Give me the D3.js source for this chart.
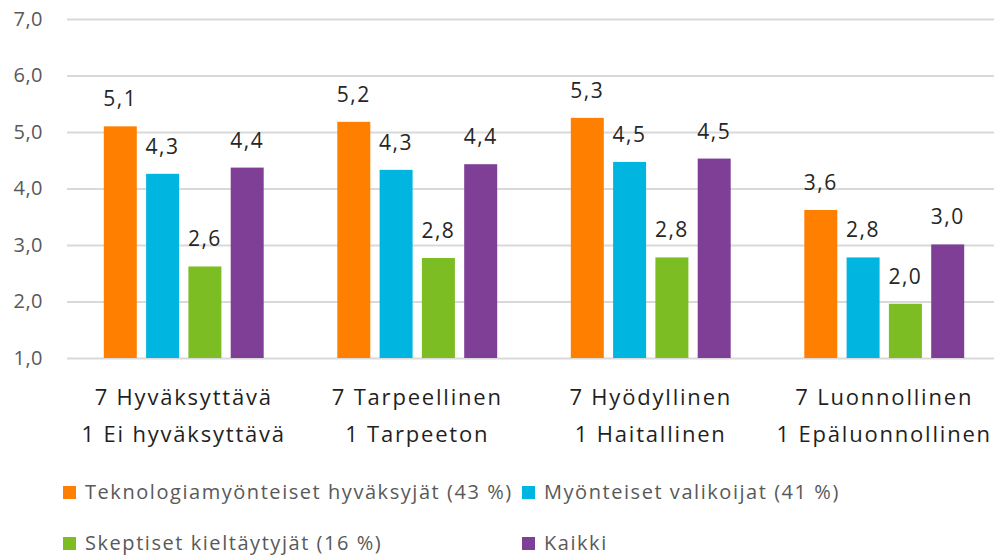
<!DOCTYPE html>
<html>
<head>
<meta charset="utf-8">
<script src="https://cdn.jsdelivr.net/npm/d3@7"></script>
<style>
  body { margin: 0; background: #fff; }
  svg { display: block; font-family: "Open Sans", sans-serif; }
</style>
</head>
<body>
<script>
// chart data
const categories = ["7 Hyväksyttävä\n1 Ei hyväksyttävä", "7 Tarpeellinen\n1 Tarpeeton", "7 Hyödyllinen\n1 Haitallinen", "7 Luonnollinen\n1 Epäluonnollinen"];
const seriesNames = ["Teknologiamyönteiset hyväksyjät (43 %)", "Myönteiset valikoijat (41 %)", "Skeptiset kieltäytyjät (16 %)", "Kaikki"];
const seriesColors = ["#ff8000", "#00b5e0", "#7bbd22", "#7f3f96"];
const techPositive = [5.10, 5.18, 5.25, 3.62];
const positiveSelectors = [4.26, 4.33, 4.47, 2.78];
const skeptics = [2.62, 2.77, 2.78, 1.96];
const everyone = [4.37, 4.43, 4.53, 3.01];
const yTicks = [1, 2, 3, 4, 5, 6, 7];

const seriesValues = [techPositive, positiveSelectors, skeptics, everyone];

const width = 995, height = 559;
const svg = d3.select("body").append("svg").attr("width", width).attr("height", height);

const x = d3.scaleBand().domain(categories).range([67, 1001]);
const x1 = d3.scaleBand().domain(seriesNames)
  .range([(x.bandwidth() - 169.2) / 2, (x.bandwidth() + 169.2) / 2])
  .paddingInner(0.22).paddingOuter(0.11);
const y = d3.scaleLinear().domain([1, 7]).range([358, 19]);

const fmt = v => v.toFixed(1).replace(".", ",");

// gridlines + y labels
const yAxis = svg.append("g")
  .attr("transform", "translate(67,0)")
  .call(d3.axisLeft(y).tickValues(yTicks).tickSize(-(994 - 67)).tickPadding(24).tickFormat(fmt));
yAxis.select(".domain").remove();
yAxis.selectAll(".tick line").attr("stroke", "#d9d9d9").attr("stroke-width", 2);
yAxis.selectAll(".tick text")
  .attr("fill", "#595959").attr("font-size", 20).attr("font-family", "Open Sans")
  .attr("letter-spacing", 0.5);

// bars
const groups = svg.append("g").selectAll("g")
  .data(categories).enter().append("g")
  .attr("transform", d => `translate(${x(d)},0)`);

groups.selectAll("rect")
  .data((c, i) => seriesNames.map((s, j) => ({ s, j, v: seriesValues[j][i] })))
  .enter().append("rect")
  .attr("x", d => x1(d.s))
  .attr("width", x1.bandwidth())
  .attr("y", d => y(d.v))
  .attr("height", d => y(1) - y(d.v))
  .attr("fill", d => seriesColors[d.j]);

groups.selectAll("text.val")
  .data((c, i) => seriesNames.map((s, j) => ({ s, j, v: seriesValues[j][i] })))
  .enter().append("text")
  .attr("class", "val")
  .attr("x", d => x1(d.s) + x1.bandwidth() / 2)
  .attr("y", d => y(d.v) - 20)
  .attr("text-anchor", "middle")
  .attr("font-size", 21)
  .attr("letter-spacing", 1.5)
  .attr("fill", "#262626")
  .text(d => fmt(d.v));

// category labels (two lines)
const catLabels = svg.append("g").selectAll("text")
  .data(categories).enter().append("text")
  .attr("x", d => x(d) + x.bandwidth() / 2)
  .attr("y", 405)
  .attr("text-anchor", "middle")
  .attr("font-size", 22)
  .attr("letter-spacing", 1.8)
  .attr("fill", "#1f1f1f");
catLabels.selectAll("tspan")
  .data(d => d.split("\n")).enter().append("tspan")
  .attr("x", function () { return d3.select(this.parentNode).attr("x"); })
  .attr("dy", (d, i) => i ? 37 : 0)
  .text(d => d);

// legend
const legendPos = [[63, 499], [522, 499], [63, 550], [522, 550]];
const legend = svg.append("g").selectAll("g")
  .data(seriesNames).enter().append("g")
  .attr("transform", (d, i) => `translate(${legendPos[i][0]},${legendPos[i][1]})`);
legend.append("rect")
  .attr("x", 0).attr("y", -13).attr("width", 13).attr("height", 13)
  .attr("fill", (d, i) => seriesColors[i]);
legend.append("text")
  .attr("x", 22).attr("y", 0)
  .attr("font-size", 20)
  .attr("letter-spacing", 1.55)
  .attr("fill", "#595959")
  .text(d => d);
</script>
</body>
</html>
